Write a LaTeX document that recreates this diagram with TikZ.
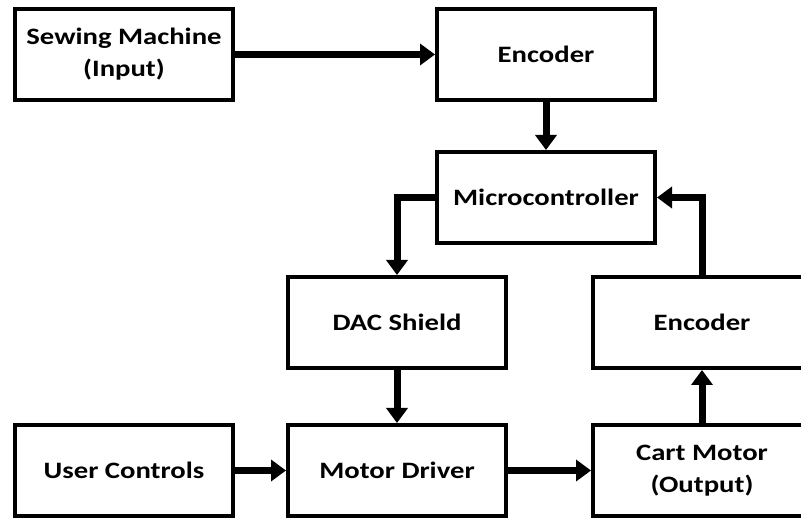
\documentclass[tikz,border=0pt]{standalone}
\usepackage{fontspec}
\newfontfamily\blockfont[FakeStretch=1.22]{Carlito}
\usetikzlibrary{positioning,calc,arrows.meta}

\begin{document}
\begin{tikzpicture}[x=1pt,y=-1pt,
                       block/.style={rectangle,draw,line width=4pt,minimum width=218pt,minimum height=91pt,
                                     align=center,font=\blockfont\bfseries\fontsize{23.5}{32}\selectfont},
                       link/.style={line width=7pt,-{Triangle[length=15pt,width=21pt]}}
                      ]
  \useasboundingbox (0,0) rectangle (801,521);
  \clip (0,0) rectangle (801,521);
  \node[block] (sewing) at (124,54.5) {Sewing Machine\\(Input)};
  \node[block] (enca) at (546,54.5) {Encoder};
  \node[block] (micro) at (546,197.5) {Microcontroller};
  \node[block] (dac) at (397,322.5) {DAC Shield};
  \node[block] (encb) at (702,322.5) {Encoder};
  \node[block] (user) at (124,470.5) {User Controls};
  \node[block] (driver) at (397,470.5) {Motor Driver};
  \node[block] (cart) at (702,470.5) {Cart Motor\\(Output)};

  \path[link]%
      (sewing) edge (enca)
      (enca) edge (micro)
      (dac) edge (driver)
      (user) edge (driver)
      (driver) edge (cart)
      (cart) edge (encb);
  \draw[link] (micro.west) -| (dac.north);
  \draw[link] (encb.north) |- (micro.east);
\end{tikzpicture}
\end{document}
